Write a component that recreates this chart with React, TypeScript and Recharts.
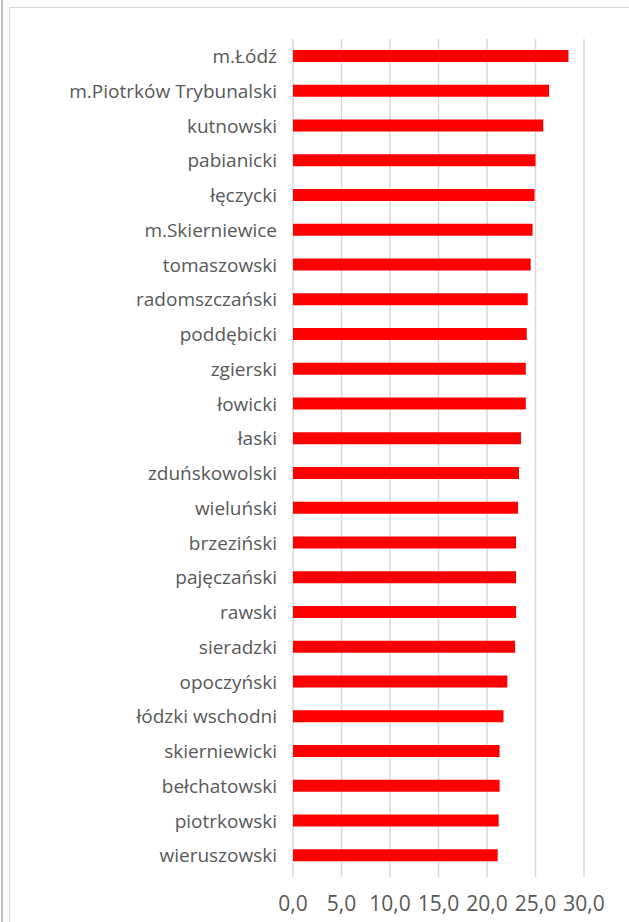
import React from 'react';
import { BarChart, Bar, XAxis, YAxis, CartesianGrid } from 'recharts';

const powiaty = [
  'm.Łódź',
  'm.Piotrków Trybunalski',
  'kutnowski',
  'pabianicki',
  'łęczycki',
  'm.Skierniewice',
  'tomaszowski',
  'radomszczański',
  'poddębicki',
  'zgierski',
  'łowicki',
  'łaski',
  'zduńskowolski',
  'wieluński',
  'brzeziński',
  'pajęczański',
  'rawski',
  'sieradzki',
  'opoczyński',
  'łódzki wschodni',
  'skierniewicki',
  'bełchatowski',
  'piotrkowski',
  'wieruszowski',
];

const wartosci = [
  28.4, 26.4, 25.8, 25.0, 24.9, 24.7, 24.5, 24.2, 24.1, 24.0, 24.0, 23.5,
  23.3, 23.2, 23.0, 23.0, 23.0, 22.9, 22.1, 21.7, 21.3, 21.3, 21.2, 21.1,
];

const xTicks = [0, 5, 10, 15, 20, 25, 30];

const data = powiaty.map((name, i) => ({ name, value: wartosci[i] }));

const fmt = (v: number) => v.toFixed(1).replace('.', ',');

export default function App() {
  return (
    <div style={{ position: 'fixed', left: 0, top: 0, width: 629, height: 922, background: '#fff' }}>
      <div style={{ position: 'absolute', left: 1, top: 0, width: 2, height: 922, background: '#bfbfbf' }} />
      <div
        style={{
          position: 'absolute',
          left: 9,
          top: 7,
          width: 640,
          height: 930,
          border: '1px solid #d9d9d9',
          boxSizing: 'border-box',
        }}
      />
      <div style={{ position: 'absolute', left: 0, top: 0 }}>
        <BarChart
          width={629}
          height={922}
          data={data}
          layout="vertical"
          margin={{ top: 39, right: 45, left: 0, bottom: 9 }}
          barCategoryGap={0}
          style={{ fontFamily: '"Open Sans", sans-serif' }}
        >
          <CartesianGrid horizontal={false} stroke="#d9d9d9" strokeWidth={1.5} />
          <XAxis
            type="number"
            domain={[0, 30]}
            ticks={xTicks}
            tickFormatter={fmt}
            axisLine={false}
            tickLine={{ stroke: '#d9d9d9', strokeWidth: 1.5 }}
            tickSize={4}
            tickMargin={19}
            height={40}
            tick={{ fill: '#595959', fontSize: 21 }}
            interval={0}
          />
          <YAxis
            type="category"
            dataKey="name"
            width={293}
            axisLine={false}
            tickLine={false}
            tickSize={0}
            tickMargin={16}
            interval={0}
            tick={{ fill: '#595959', fontSize: 19 }}
          />
          <Bar dataKey="value" fill="#ff0000" barSize={12} isAnimationActive={false} />
        </BarChart>
      </div>
    </div>
  );
}
